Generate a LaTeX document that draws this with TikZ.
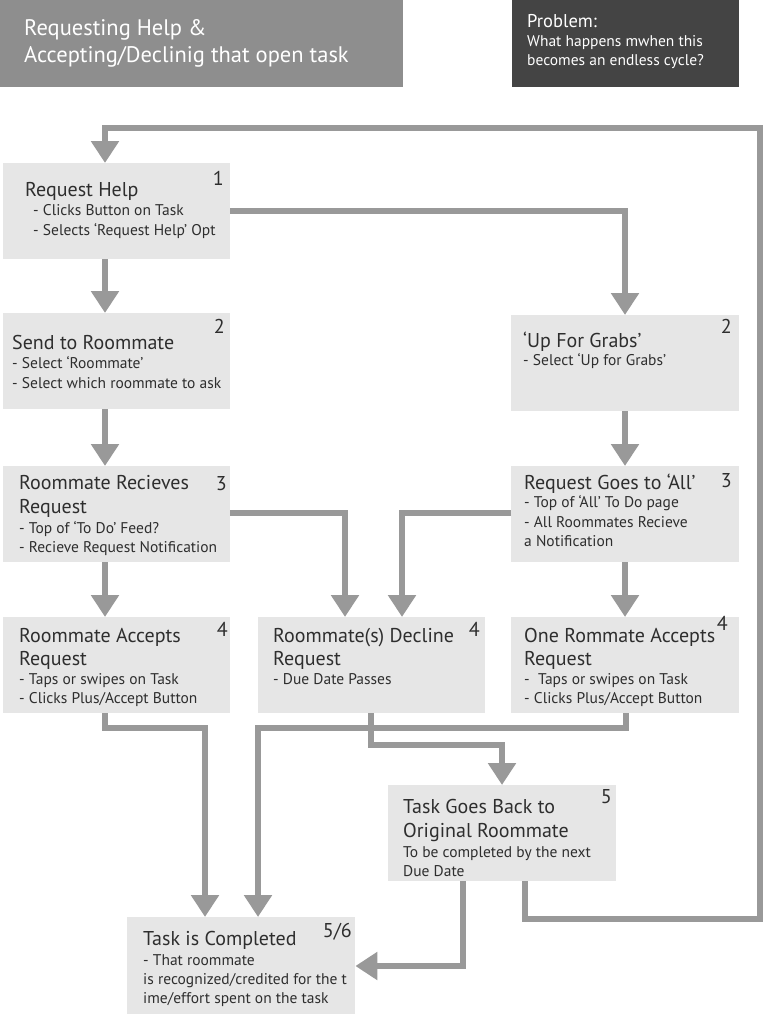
\documentclass[tikz,border=0pt]{standalone}
\usepackage{fontspec}
\setmainfont{PT Sans}
\usepackage{tikz}
\usetikzlibrary{arrows.meta, positioning}

\definecolor{boxgray}{HTML}{E6E6E6}
\definecolor{linegray}{HTML}{999999}
\definecolor{inkgray}{HTML}{2E2E2E}
\definecolor{headgray}{HTML}{8E8E8E}
\definecolor{probgray}{HTML}{444444}

\tikzset{
  box/.style={fill=boxgray, inner sep=0pt, minimum width=227pt, minimum height=96pt, anchor=north west},
  head/.style={inner sep=0pt, anchor=north west},
  title/.style={anchor=base west, inner sep=0pt, text=inkgray, font=\fontsize{20}{24}\selectfont},
  sub/.style={anchor=base west, inner sep=0pt, text=inkgray, font=\fontsize{15.5}{20}\selectfont},
  num/.style={anchor=base east, inner sep=0pt, text=inkgray, font=\fontsize{20}{24}\selectfont},
  headtext/.style={anchor=base west, inner sep=0pt, text=white},
  flow/.style={draw=linegray, line width=5.5pt, line join=miter, -{Triangle[width=27pt,length=22pt]}}
}

\begin{document}
\begin{tikzpicture}[x=1pt,y=-1pt]
\useasboundingbox (0,0) rectangle (768,1014);

% headers
\node[head, fill=headgray, minimum width=403pt, minimum height=87pt] (heading) at (0,0) {};
\node[headtext, font=\fontsize{22.5}{27}\selectfont] at (24,36) {Requesting Help \&};
\node[headtext, font=\fontsize{22.5}{27}\selectfont] at (24,63) {Accepting/Declinig that open task};
\node[head, fill=probgray, minimum width=227pt, minimum height=87pt] (problem) at (512,0) {};
\node[headtext, font=\fontsize{18.5}{20}\selectfont] at (527,28) {Problem:};
\node[headtext, font=\fontsize{15.5}{20}\selectfont] at (527,47) {What happens mwhen this};
\node[headtext, font=\fontsize{15.5}{20}\selectfont] at (527,66) {becomes an endless cycle?};

% boxes
\node[box] (help) at (3,163) {};
\node[box] (send) at (3,313) {};
\node[box, minimum width=228pt] (grabs) at (511,315) {};
\node[box] (recv) at (3,466) {};
\node[box, minimum width=228pt] (all) at (511,466) {};
\node[box] (accept) at (3,617) {};
\node[box] (decline) at (258,617) {};
\node[box, minimum width=228pt] (one) at (511,617) {};
\node[box, minimum width=228pt] (back) at (388,785) {};
\node[box, minimum width=228pt, minimum height=97pt] (done) at (127,917) {};

% 1
\node[title] at (25,196) {Request Help};
\node[sub] at (33,215) {- Clicks Button on Task};
\node[sub] at (33,235) {- Selects ‘Request Help’ Opt};
\node[num] at (224,185) {1};
% 2
\node[title] at (12,349) {Send to Roommate};
\node[sub] at (12,368) {- Select ‘Roommate’};
\node[sub] at (12,388) {- Select which roommate to ask};
\node[num] at (225,333) {2};
\node[title] at (523,347) {‘Up For Grabs’};
\node[sub] at (523,365) {- Select ‘Up for Grabs’};
\node[num] at (732,333) {2};
% 3
\node[title] at (19,489) {Roommate Recieves};
\node[title] at (19,513) {Request};
\node[sub] at (19,533) {- Top of ‘To Do’ Feed?};
\node[sub] at (19,552) {- Recieve Request Notification};
\node[num] at (227,490) {3};
\node[title] at (524,489) {Request Goes to ‘All’};
\node[sub] at (524,507) {- Top of ‘All’ To Do page};
\node[sub] at (524,527) {- All Roommates Recieve};
\node[sub] at (524,546) {a Notification};
\node[num] at (732,487) {3};
% 4
\node[title] at (19,642) {Roommate Accepts};
\node[title] at (19,665) {Request};
\node[sub] at (19,684) {- Taps or swipes on Task};
\node[sub] at (19,703) {- Clicks Plus/Accept Button};
\node[num] at (228,636) {4};
\node[title] at (273,642) {Roommate(s) Decline};
\node[title] at (273,665) {Request};
\node[sub] at (273,684) {- Due Date Passes};
\node[num] at (480,636) {4};
\node[title] at (524,642) {One Rommate Accepts};
\node[title] at (524,665) {Request};
\node[sub] at (524,684) {-~ Taps or swipes on Task};
\node[sub] at (524,703) {- Clicks Plus/Accept Button};
\node[num] at (728,630) {4};
% 5
\node[title] at (403,813) {Task Goes Back to};
\node[title] at (403,837) {Original Roommate};
\node[sub] at (403,857) {To be completed by the next};
\node[sub] at (403,876) {Due Date};
\node[num] at (612,803) {5};
\node[title] at (143,945) {Task is Completed};
\node[sub] at (143,965) {- That roommate};
\node[sub] at (143,984) {is recognized/credited for the t};
\node[sub] at (143,1003) {ime/effort spent on the task};
\node[num] at (352,937) {5/6};

% connectors
\draw[flow] (back.south -| 525,0) |- (760,919) |- (105,128) -- (help.north -| 105,0);
\draw[flow] (help.east |- 0,211) -| (grabs.north -| 625,0);
\draw[flow] (help.south -| 105,0) -- (send.north -| 105,0);
\draw[flow] (send.south -| 105,0) -- (recv.north -| 105,0);
\draw[flow] (grabs.south -| 625,0) -- (all.north -| 625,0);
\draw[flow] (recv.east |- 0,513) -| (decline.north -| 345,0);
\draw[flow] (all.west |- 0,513) -| (decline.north -| 402,0);
\draw[flow] (recv.south -| 105,0) -- (accept.north -| 105,0);
\draw[flow] (all.south -| 625,0) -- (one.north -| 625,0);
\draw[flow] (accept.south -| 105,0) -- (105,728) -| (done.north -| 205,0);
\draw[flow] (one.south -| 626,0) -- (626,728) -| (done.north -| 258,0);
\draw[flow] (decline.south -| 371,0) -- (371,745) -| (back.north -| 502,0);
\draw[flow] (back.south -| 463,0) |- (done.east |- 0,966);
\end{tikzpicture}
\end{document}
